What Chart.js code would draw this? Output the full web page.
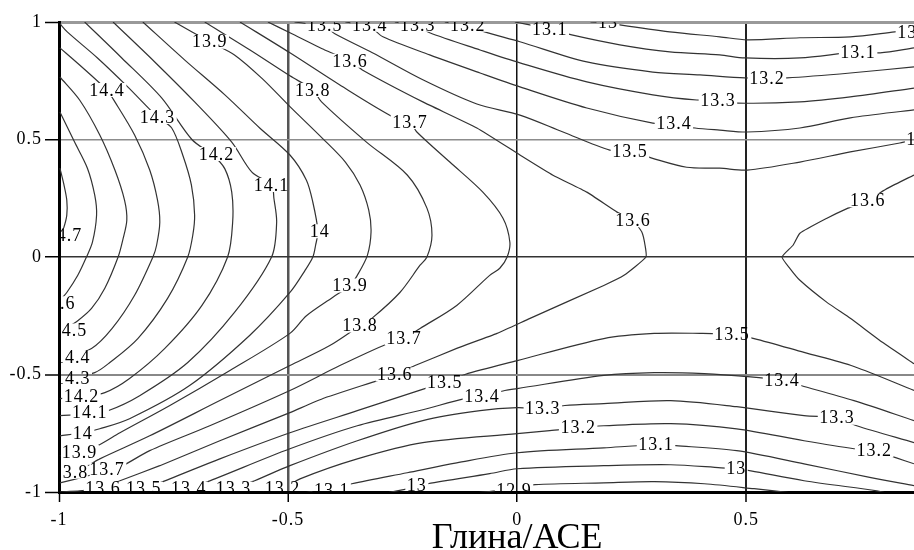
<!DOCTYPE html>
<html lang="ru">
<head>
    <meta charset="UTF-8">
    <title>Глина/АСЕ</title>
    <script src="https://cdn.jsdelivr.net/npm/chart.js"></script>
    <style>
        body { margin: 0; background: #fff; }
        #wrap { width: 914px; height: 550px; }
    </style>
</head>
<body>
    <div id="wrap"><canvas id="chart" width="914" height="550"></canvas></div>

    <script>
        // tick values
        const xTicks = [-1, -0.5, 0, 0.5];
        const yTicks = [-1, -0.5, 0, 0.5, 1];

        // contour lines, [x, y] points
        const c147 = [[-0.998,0.378],[-0.990,0.314],[-0.983,0.242],[-0.983,0.178],[-0.990,0.122],[-0.998,0.088]];
        const c146 = [[-0.998,0.617],[-0.966,0.489],[-0.938,0.378],[-0.922,0.263],[-0.918,0.178],[-0.927,0.063],[-0.940,0],[-0.959,-0.078],[-0.983,-0.151],[-0.998,-0.185]];
        const c145 = [[-0.998,0.766],[-0.955,0.668],[-0.911,0.519],[-0.878,0.370],[-0.857,0.242],[-0.852,0.156],[-0.861,0.071],[-0.871,0],[-0.900,-0.133],[-0.929,-0.219],[-0.959,-0.271],[-0.998,-0.321]];
        const c144 = [[-0.998,0.890],[-0.955,0.817],[-0.896,0.711],[-0.878,0.660],[-0.835,0.519],[-0.802,0.370],[-0.785,0.242],[-0.780,0.148],[-0.787,0.050],[-0.795,0],[-0.835,-0.163],[-0.884,-0.304],[-0.929,-0.389],[-0.998,-0.432]];
        const c143 = [[-0.998,0.993],[-0.982,0.958],[-0.916,0.847],[-0.850,0.724],[-0.785,0.596],[-0.754,0.549],[-0.730,0.434],[-0.711,0.306],[-0.704,0.178],[-0.708,0.093],[-0.719,0],[-0.763,-0.176],[-0.828,-0.347],[-0.889,-0.449],[-0.922,-0.492],[-0.998,-0.526]];
        const c142 = [[-0.944,1],[-0.863,0.847],[-0.776,0.677],[-0.710,0.500],[-0.662,0.430],[-0.638,0.375],[-0.623,0.276],[-0.621,0.148],[-0.632,0],[-0.688,-0.206],[-0.769,-0.389],[-0.846,-0.517],[-0.900,-0.577],[-0.951,-0.594],[-0.998,-0.603]];
        const c141 = [[-0.882,1],[-0.791,0.830],[-0.704,0.660],[-0.623,0.489],[-0.579,0.361],[-0.536,0.306],[-0.531,0.250],[-0.525,0.148],[-0.536,0],[-0.617,-0.236],[-0.719,-0.449],[-0.824,-0.590],[-0.893,-0.654],[-0.933,-0.667],[-0.998,-0.675]];
        const c140 = [[-0.817,1],[-0.726,0.839],[-0.638,0.690],[-0.562,0.549],[-0.496,0.434],[-0.460,0.327],[-0.446,0.233],[-0.435,0.110],[-0.440,0.050],[-0.446,0],[-0.463,-0.057],[-0.496,-0.151],[-0.584,-0.334],[-0.715,-0.547],[-0.846,-0.688],[-0.911,-0.731],[-0.948,-0.748],[-0.998,-0.761]];
        const c139 = [[-0.748,1],[-0.671,0.916],[-0.617,0.860],[-0.557,0.760],[-0.496,0.640],[-0.425,0.505],[-0.375,0.404],[-0.343,0.306],[-0.324,0.199],[-0.319,0.106],[-0.327,0.007],[-0.349,-0.078],[-0.365,-0.121],[-0.403,-0.172],[-0.460,-0.250],[-0.496,-0.325],[-0.627,-0.483],[-0.758,-0.632],[-0.867,-0.748],[-0.916,-0.803],[-0.955,-0.829],[-0.998,-0.846]];
        const c138 = [[-0.682,1],[-0.584,0.882],[-0.496,0.771],[-0.446,0.711],[-0.427,0.660],[-0.329,0.489],[-0.240,0.349],[-0.197,0.208],[-0.186,0.093],[-0.197,0],[-0.212,-0.035],[-0.256,-0.151],[-0.316,-0.259],[-0.343,-0.292],[-0.409,-0.377],[-0.496,-0.462],[-0.649,-0.611],[-0.802,-0.761],[-0.911,-0.859],[-0.938,-0.888],[-0.966,-0.910],[-0.998,-0.918]];
        const c137 = [[-0.605,1],[-0.496,0.869],[-0.387,0.732],[-0.271,0.596],[-0.234,0.574],[-0.219,0.532],[-0.147,0.404],[-0.075,0.276],[-0.031,0.165],[-0.016,0.063],[-0.022,0],[-0.038,-0.048],[-0.060,-0.078],[-0.132,-0.206],[-0.212,-0.304],[-0.247,-0.347],[-0.282,-0.368],[-0.387,-0.462],[-0.496,-0.568],[-0.671,-0.718],[-0.802,-0.824],[-0.861,-0.888],[-0.895,-0.910],[-0.944,-0.935],[-0.998,-0.961]];
        const c136 = [[-0.544,1],[-0.496,0.954],[-0.420,0.881],[-0.365,0.835],[-0.338,0.796],[-0.206,0.660],[-0.088,0.549],[0.006,0.434],[0.078,0.348],[0.152,0.276],[0.218,0.191],[0.253,0.156],[0.272,0.106],[0.279,0.050],[0.281,0],[0.233,-0.078],[0.189,-0.121],[0.028,-0.261],[-0.044,-0.325],[-0.132,-0.389],[-0.223,-0.462],[-0.267,-0.500],[-0.305,-0.526],[-0.425,-0.603],[-0.496,-0.662],[-0.649,-0.782],[-0.780,-0.888],[-0.867,-0.952],[-0.904,-0.982],[-0.955,-0.995],[-0.998,-1]];
        const c136r = [[0.866,0.349],[0.809,0.293],[0.765,0.242],[0.722,0.208],[0.676,0.165],[0.617,0.101],[0.602,0.050],[0.578,0],[0.595,-0.048],[0.617,-0.099],[0.676,-0.193],[0.727,-0.261],[0.798,-0.364],[0.866,-0.454]];
        const c135top = [[-0.486,1],[-0.420,0.980],[-0.398,0.950],[-0.316,0.869],[-0.206,0.754],[-0.088,0.651],[0.006,0.604],[0.100,0.532],[0.202,0.455],[0.246,0.451],[0.294,0.421],[0.370,0.382],[0.442,0.378],[0.502,0.370],[0.617,0.404],[0.727,0.447],[0.835,0.485],[0.866,0.498]];
        const c134top = [[-0.375,1],[-0.322,0.980],[-0.293,0.937],[-0.191,0.860],[-0.081,0.783],[0.006,0.724],[0.152,0.634],[0.296,0.570],[0.342,0.566],[0.388,0.549],[0.442,0.540],[0.502,0.532],[0.617,0.549],[0.727,0.592],[0.866,0.626]];
        const c133top = [[-0.267,1],[-0.217,0.984],[-0.191,0.954],[-0.081,0.881],[0.006,0.826],[0.152,0.745],[0.296,0.690],[0.392,0.668],[0.438,0.668],[0.482,0.655],[0.617,0.660],[0.727,0.681],[0.866,0.719]];
        const c132top = [[-0.158,1],[-0.108,0.984],[-0.071,0.958],[0.006,0.916],[0.152,0.830],[0.296,0.787],[0.399,0.775],[0.497,0.762],[0.545,0.762],[0.589,0.762],[0.727,0.783],[0.866,0.809]];
        const c131top = [[-0.005,1],[0.071,0.971],[0.119,0.945],[0.224,0.903],[0.333,0.873],[0.442,0.860],[0.497,0.847],[0.617,0.847],[0.744,0.873],[0.792,0.869],[0.866,0.890]];
        const c130top = [[0.160,1],[0.198,0.998],[0.224,0.988],[0.333,0.958],[0.442,0.937],[0.502,0.924],[0.617,0.933],[0.727,0.937],[0.824,0.958],[0.866,0.967]];
        const c135bot = [[-0.857,-1.003],[-0.815,-0.986],[-0.758,-0.944],[-0.649,-0.859],[-0.496,-0.748],[-0.349,-0.654],[-0.195,-0.556],[-0.158,-0.534],[-0.114,-0.500],[0,-0.441],[0.189,-0.347],[0.299,-0.325],[0.399,-0.325],[0.469,-0.330],[0.517,-0.347],[0.626,-0.406],[0.735,-0.466],[0.866,-0.568]];
        const c134bot = [[-0.758,-1.003],[-0.717,-0.986],[-0.660,-0.944],[-0.496,-0.816],[-0.349,-0.718],[-0.206,-0.650],[-0.114,-0.603],[-0.077,-0.594],[-0.027,-0.568],[0,-0.560],[0.189,-0.504],[0.299,-0.492],[0.408,-0.496],[0.502,-0.509],[0.578,-0.526],[0.626,-0.551],[0.735,-0.611],[0.866,-0.696]];
        const c133bot = [[-0.660,-1.003],[-0.619,-0.986],[-0.573,-0.952],[-0.496,-0.888],[-0.349,-0.782],[-0.206,-0.696],[-0.081,-0.654],[0,-0.641],[0.056,-0.645],[0.104,-0.632],[0.189,-0.624],[0.335,-0.611],[0.479,-0.637],[0.626,-0.675],[0.698,-0.684],[0.741,-0.718],[0.866,-0.790]];
        const c132bot = [[-0.557,-1.003],[-0.512,-0.986],[-0.474,-0.944],[-0.349,-0.859],[-0.206,-0.790],[0,-0.752],[0.071,-0.739],[0.133,-0.726],[0.189,-0.718],[0.335,-0.709],[0.479,-0.731],[0.626,-0.782],[0.735,-0.816],[0.779,-0.824],[0.826,-0.854],[0.866,-0.880]];
        const c131bot = [[-0.463,-1.003],[-0.405,-0.991],[-0.361,-0.965],[-0.240,-0.918],[-0.132,-0.876],[0,-0.833],[0.189,-0.812],[0.303,-0.799],[0.346,-0.803],[0.479,-0.824],[0.626,-0.880],[0.772,-0.939],[0.866,-0.973]];
        const c130bot = [[-0.282,-1.003],[-0.219,-0.978],[-0.195,-0.965],[-0.060,-0.922],[0,-0.901],[0.189,-0.888],[0.335,-0.884],[0.445,-0.897],[0.478,-0.901],[0.510,-0.910],[0.626,-0.952],[0.785,-0.995],[0.803,-1.003]];
        const c129 = [[-0.086,-1.003],[-0.007,-0.986],[0.039,-0.969],[0.189,-0.961],[0.299,-0.956],[0.408,-0.965],[0.517,-0.986],[0.595,-1.003]];

        const contours = [c147, c146, c145, c144, c143, c142, c141, c140, c139, c138, c137,
            c136, c136r, c135top, c134top, c133top, c132top, c131top, c130top,
            c135bot, c134bot, c133bot, c132bot, c131bot, c130bot, c129];
        const sharp = [c136, c136r];

        // contour labels: text and position in data units
        const labelText = ['14.7','14.6','14.5','14.4','14.3','14.2','14.1','14','13.9','13.8','13.7',
            '13.6','13.5','13.4','13.3','13.2','13.1','13','12.9',
            '14.4','14.3','14.2','14.1','14','13.9','13.8','13.7','13.6',
            '13.5','13.4','13.3','13.2','13.1','13',
            '13.6','13.5','13.4','13.3','13.2','13.1','13','13.5','13.6',
            '13.9','13.8','13.7','13.6','13.5','13.4','13.3','13.2',
            '13.5','13.4','13.3','13.2','13.1','13'];
        const labelX = [-0.988,-1.003,-0.977,-0.970,-0.970,-0.951,-0.933,-0.948,-0.955,-0.975,-0.895,
            -0.904,-0.815,-0.717,-0.619,-0.512,-0.405,-0.219,-0.007,
            -0.895,-0.785,-0.656,-0.536,-0.431,-0.671,-0.446,-0.234,-0.365,
            -0.420,-0.322,-0.217,-0.108,0.071,0.198,
            0.253,0.246,0.342,0.438,0.545,0.744,0.851,0.888,0.765,
            -0.365,-0.343,-0.247,-0.267,-0.158,-0.077,0.056,0.133,
            0.469,0.578,0.698,0.779,0.303,0.478];
        const labelY = [0.093,-0.197,-0.313,-0.428,-0.517,-0.594,-0.662,-0.748,-0.829,-0.914,-0.905,
            -0.986,-0.986,-0.986,-0.986,-0.986,-0.991,-0.973,-0.991,
            0.711,0.596,0.438,0.306,0.110,0.916,0.711,0.574,0.835,
            0.988,0.988,0.988,0.988,0.971,1.0,
            0.156,0.451,0.570,0.668,0.762,0.873,0.958,0.502,0.242,
            -0.121,-0.292,-0.347,-0.500,-0.534,-0.594,-0.645,-0.726,
            -0.330,-0.526,-0.684,-0.824,-0.799,-0.901];

        const axisTitle = 'Глина/АСЕ';
        const serif = "'Liberation Serif', 'Times New Roman', serif";
        const labelFont = `18px ${serif}`;

        const spacing = {
            id: 'spacing',
            beforeDraw(chart) {
                chart.ctx.letterSpacing = '1px';
            }
        };

        // cut the contour lines where a label sits, then write the labels
        const contourLabels = {
            id: 'contourLabels',
            beforeDatasetsDraw(chart) {
                const {ctx, chartArea: a, scales: {x, y}} = chart;
                ctx.save();
                ctx.font = labelFont;
                ctx.beginPath();
                ctx.rect(a.left - 5, a.top - 5, a.right - a.left + 10, a.bottom - a.top + 10);
                labelText.forEach((t, i) => {
                    const w = ctx.measureText(t).width + 3;
                    const cx = x.getPixelForValue(labelX[i]);
                    const cy = y.getPixelForValue(labelY[i]);
                    ctx.rect(cx - w / 2, cy - 7, w, 14);
                });
                ctx.clip('evenodd');
            },
            afterDatasetsDraw(chart) {
                const {ctx, chartArea: a, scales: {x, y}} = chart;
                ctx.restore();
                ctx.save();
                ctx.beginPath();
                ctx.rect(a.left, a.top, a.right - a.left, a.bottom - a.top);
                ctx.clip();
                ctx.font = labelFont;
                ctx.fillStyle = '#000';
                ctx.textAlign = 'center';
                ctx.textBaseline = 'middle';
                labelText.forEach((t, i) => {
                    ctx.fillText(t, x.getPixelForValue(labelX[i]), y.getPixelForValue(labelY[i]) + 1);
                });
                ctx.restore();
            }
        };

        const xTitle = {
            id: 'xTitle',
            afterDraw(chart) {
                const {ctx, scales: {x}} = chart;
                ctx.save();
                ctx.font = `36px ${serif}`;
                ctx.letterSpacing = '0px';
                ctx.fillStyle = '#000';
                ctx.textAlign = 'center';
                ctx.textBaseline = 'alphabetic';
                ctx.fillText(axisTitle, x.getPixelForValue(0), 548);
                ctx.restore();
            }
        };

        const xGrid = {'-1': ['#000', 3], '-0.5': ['#555', 2.5], '0': ['#111', 1.5], '0.5': ['#222', 2]};
        const yGrid = {'-1': ['#000', 3], '-0.5': ['#888', 2], '0': ['#333', 1.5], '0.5': ['#8c8c8c', 1.5], '1': ['#999', 3]};

        new Chart(document.getElementById('chart'), {
            type: 'scatter',
            data: {
                datasets: contours.map(pts => ({
                    data: pts.map(p => ({x: p[0], y: p[1]})),
                    showLine: true,
                    pointRadius: 0,
                    borderColor: '#333',
                    borderWidth: 1.2,
                    tension: sharp.includes(pts) ? 0.15 : 0.3,
                    fill: false
                }))
            },
            options: {
                responsive: false,
                devicePixelRatio: 1,
                animation: false,
                layout: {padding: {top: 22, right: 0, left: 0, bottom: 0}},
                plugins: {legend: {display: false}, tooltip: {enabled: false}},
                scales: {
                    x: {
                        type: 'linear',
                        min: -1,
                        max: 0.866,
                        afterBuildTicks: s => { s.ticks = xTicks.map(v => ({value: v})); },
                        afterFit: s => { s.height = 58; },
                        ticks: {
                            font: {family: serif, size: 18},
                            color: '#000',
                            padding: 7,
                            maxRotation: 0,
                            callback: v => String(v)
                        },
                        grid: {
                            color: c => (xGrid[String(c.tick.value)] || ['#888'])[0],
                            lineWidth: c => (xGrid[String(c.tick.value)] || [0, 1])[1],
                            tickLength: 10,
                            tickColor: '#000',
                            tickWidth: 1.5
                        },
                        border: {color: '#000', width: 3}
                    },
                    y: {
                        type: 'linear',
                        min: -1,
                        max: 1,
                        afterBuildTicks: s => { s.ticks = yTicks.map(v => ({value: v})); },
                        afterFit: s => { s.width = 59; },
                        ticks: {
                            font: {family: serif, size: 18},
                            color: '#000',
                            padding: 3,
                            callback: v => String(v)
                        },
                        grid: {
                            color: c => (yGrid[String(c.tick.value)] || ['#888'])[0],
                            lineWidth: c => (yGrid[String(c.tick.value)] || [0, 1])[1],
                            tickLength: 14,
                            tickColor: '#000',
                            tickWidth: 1.5
                        },
                        border: {color: '#000', width: 3}
                    }
                }
            },
            plugins: [spacing, contourLabels, xTitle]
        });
    </script>
</body>
</html>
